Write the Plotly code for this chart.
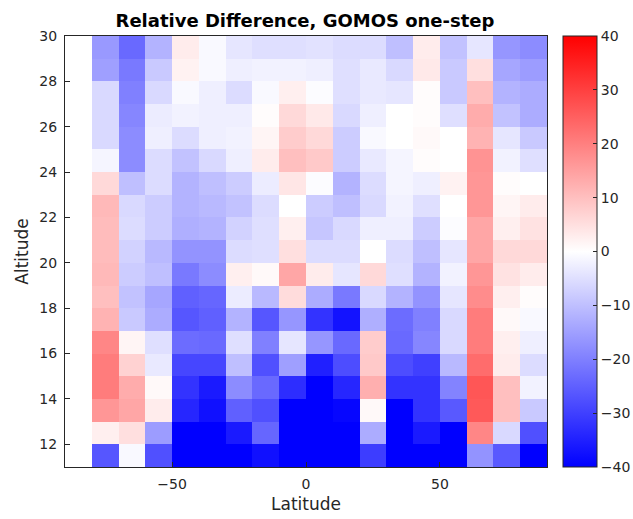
import plotly.graph_objects as go

# Latitude bin centres (10 degree bins) and altitude bin centres (1 km bins)
latitude = [-85, -75, -65, -55, -45, -35, -25, -15, -5, 5, 15, 25, 35, 45, 55, 65, 75, 85]
altitude_top_down = [29.5, 28.5, 27.5, 26.5, 25.5, 24.5, 23.5, 22.5, 21.5, 20.5,
                     19.5, 18.5, 17.5, 16.5, 15.5, 14.5, 13.5, 12.5, 11.5]

# Relative difference (%) per altitude row, listed from the top row down.
# The first latitude bin has no data.
N = None
rel_diff_rows = [
    [N, -16, -23.5, -12, 3, -1, -4, -5, -5, -4.5, -5.5, -5.5, -10, 3, -9.5, -4, -16.5, -18],
    [N, -15, -21, -8.5, 2, -1, -2.5, -2, -2, -2.5, -5, -3.5, -6, 3.5, -8.5, 5, -14, -15.5],
    [N, -6, -20, -6, -1, -2.5, -5.5, -1, 2.5, -0.5, -5, -3.5, -4, 0.5, -8.5, 10, -12, -13],
    [N, -6, -19, -3, -2, -2.5, -2.5, 0.5, 6, 3.5, -6, -2.5, 0, 0.5, -5, 13, -9.5, -13],
    [N, -6, -18, -2.5, -5.5, -2.5, -2, 1.5, 8, 6, -8, -1, 0, 1, 0, 12, -4, -8.5],
    [N, -1.5, -18, -5.5, -9.5, -6, -2.5, 3, 10, 8.5, -8, -3.5, -1.5, 0.5, 0, 17, -2, -5],
    [N, 6, -10, -5.5, -12, -10, -8, -3, 4, -0.5, -12, -5.5, -1.5, -2.5, 2, 16.5, 0.5, 0],
    [N, 11, -6, -8, -12, -11, -9.5, -5.5, 0, -8, -10, -6, -2, -5, 0, 16.5, 1.5, 3],
    [N, 10.5, -5.5, -8, -12.5, -12, -7, -5, 2.5, -9, -6, -2.5, -2.5, -8, -0.5, 14, 2.5, 4.5],
    [N, 10.5, -7, -11, -17, -17, -5.5, -5, 5, -5.5, -5.5, 0, -5.5, -10, -4, 14, 6, 6],
    [N, 11, -8, -10, -21, -18, 2.5, 1, 14, 3, -4, 6, -5, -12, -2, 16.5, 4.5, 3],
    [N, 10, -9.5, -14, -25, -24, -3, -11, 5.5, -13, -21, -6, -12, -17, -4, 18, 2.5, 0.5],
    [N, 12, -8.5, -13, -26.5, -25, -12, -26.5, -16.5, -32, -37, -12.5, -23, -20, -6, 20.5, 1, -1],
    [N, 19, 1.5, -5, -23, -23.5, -5, -20, -4, -16.5, -23.5, 8, -23.5, -19, -6, 20.5, 2.5, -2.5],
    [N, 20.5, 7, -3.5, -29, -29, -10, -27.5, -15, -35, -28, 8.5, -28, -30, -11, 23, 3, -5.5],
    [N, 20.5, 13, 1, -32, -36, -18, -23.5, -33, -40, -34, 12.5, -32, -32, -19.5, 26.5, 10, -2],
    [N, 16.5, 14, 3, -34, -37.5, -25, -27.5, -40, -40, -39, 1, -40, -32, -26, 26, 10, -8.5],
    [N, 2.5, 5, -15.5, -40, -40, -36, -24, -40, -40, -40, -13, -40, -36, -40, 19, -6, -27.5],
    [N, -26.5, -1, -27.5, -40, -40, -40, -37.5, -40, -40, -40, -30.5, -40, -40, -40, -17, -26, -40],
]

x_ticks = [-50, 0, 50]
y_ticks = [12, 14, 16, 18, 20, 22, 24, 26, 28, 30]
cbar_ticks = [-40, -30, -20, -10, 0, 10, 20, 30, 40]

altitude = altitude_top_down[::-1]
z = rel_diff_rows[::-1]

axis_col = "#262626"
font_family = "DejaVu Sans, Arial, sans-serif"

fig = go.Figure(
    go.Heatmap(
        x=latitude,
        y=altitude,
        z=z,
        zmin=-40,
        zmax=40,
        colorscale=[[0, "rgb(0,0,255)"], [0.5, "rgb(255,255,255)"], [1, "rgb(255,0,0)"]],
        hoverongaps=False,
        colorbar=dict(
            x=1.0325,
            xanchor="left",
            xpad=0,
            ypad=0,
            y=0.5,
            len=1,
            lenmode="fraction",
            thickness=34,
            thicknessmode="pixels",
            outlinewidth=1,
            outlinecolor=axis_col,
            tickvals=cbar_ticks,
            ticks="inside",
            ticklen=4,
            tickcolor=axis_col,
            tickfont=dict(family=font_family, size=14, color=axis_col),
        ),
    )
)

fig.update_layout(
    width=633,
    height=519,
    margin=dict(l=64.5, r=85.5, t=36, b=52, autoexpand=False),
    paper_bgcolor="white",
    plot_bgcolor="white",
    font=dict(family=font_family, color=axis_col),
    title=dict(
        text="<b>Relative Difference, GOMOS one-step</b>",
        x=(305 - 0) / 633,
        xanchor="center",
        y=1 - 20.5 / 519,
        yanchor="middle",
        font=dict(family=font_family, size=18, color="black"),
    ),
)

fig.update_xaxes(
    range=[-90, 90],
    tickvals=x_ticks,
    ticks="inside",
    ticklen=5,
    tickcolor=axis_col,
    ticklabelstandoff=4,
    showline=True,
    linecolor=axis_col,
    linewidth=1,
    mirror=True,
    showgrid=False,
    zeroline=False,
    tickfont=dict(family=font_family, size=14, color=axis_col),
    title=dict(text="Latitude", font=dict(family=font_family, size=17, color=axis_col), standoff=7),
)
fig.update_yaxes(
    range=[11, 30],
    tickvals=y_ticks,
    ticks="inside",
    ticklen=5,
    tickcolor=axis_col,
    ticklabelstandoff=4,
    showline=True,
    linecolor=axis_col,
    linewidth=1,
    mirror=True,
    showgrid=False,
    zeroline=False,
    tickfont=dict(family=font_family, size=14, color=axis_col),
    title=dict(text="Altitude", font=dict(family=font_family, size=17, color=axis_col), standoff=6),
)

fig.write_html("out.html")
